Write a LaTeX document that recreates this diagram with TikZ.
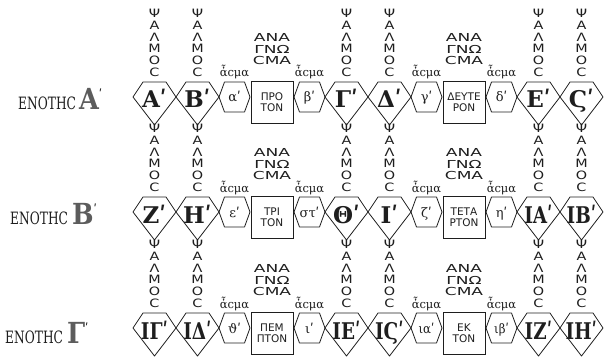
\documentclass[tikz,border=0pt]{standalone}
\usepackage{fontspec}
\usepackage{graphicx}
\setmainfont{DejaVu Serif}
\newfontfamily\gsans{DejaVu Sans}
\newfontfamily\gserif{DejaVu Serif}
\definecolor{ink}{HTML}{1E1E1E}
\definecolor{orn}{HTML}{5C5C5C}
\tikzset{
  shapeline/.style={draw=ink, line width=0.8pt, line join=round},
  psalmos/.style={inner sep=0pt, anchor=south, text=ink,
    font=\gsans\fontsize{11.5}{11}\selectfont},
  numlet/.style={inner sep=0pt, anchor=base, text=ink,
    font=\gserif\bfseries\fontsize{23}{23}\selectfont},
  hexlet/.style={inner sep=0pt, anchor=base, text=ink,
    font=\gserif\fontsize{13}{13}\selectfont},
  asma/.style={inner sep=0pt, anchor=base, text=ink,
    font=\gserif\fontsize{11.5}{11.5}\selectfont},
  anag/.style={inner sep=0pt, anchor=south, align=center, text=ink,
    font=\gsans\fontsize{11}{11.6}\selectfont},
  lecbox/.style={draw=ink, line width=0.8pt, minimum width=42pt, minimum height=42pt,
    inner sep=0pt, align=center, text=ink, font=\gsans\fontsize{10.5}{10.8}\selectfont},
  unitlabel/.style={inner sep=0pt, anchor=base west, text=ink},
}
\newcommand\PsCol{\scalebox{1.25}[1]{\begin{tabular}{@{}c@{}}Ψ\\Α\\Λ\\Μ\\Ο\\Ϲ\end{tabular}}}
\newcommand\DrawPent[4]{%
  \draw[shapeline] ({#1-11.5},#2) -- ({#1+11.5},#2) -- ({#1+21.5},{#2+15})
    -- (#1,{#2+43}) -- ({#1-21.5},{#2+15}) -- cycle;
  \node[numlet] (#4) at (#1,{#2+26}) {#3};
  \node[psalmos] (#4ps) at (#1,{#2-2}) {\PsCol};
}
\newcommand\DrawHex[4]{%
  \draw[shapeline] ({#1-10},#2) -- ({#1+10},#2) -- ({#1+15.5},{#2+15})
    -- ({#1+10},{#2+30}) -- ({#1-10},{#2+30}) -- ({#1-15.5},{#2+15}) -- cycle;
  \node[hexlet] (#4) at (#1,{#2+20}) {#3};
  \node[asma] (#4as) at (#1,{#2-5}) {ἆϲμα};
}
\newcommand\DrawLec[4]{%
  \node[lecbox] (#4) at (#1,{#2+20}) {#3};
  \node[anag] (#4an) at (#1,{#2-17}) {\scalebox{1.55}[1]{ΑΝΑ}\\\scalebox{1.55}[1]{ΓΝΩ}\\\scalebox{1.55}[1]{ϹΜΑ}};
}
\newcommand\TwoLet[1]{\scalebox{0.8}[1]{#1}}
\newcommand\OrnLet[1]{{\color{orn}\gserif\bfseries\fontsize{29}{29}\selectfont\scalebox{0.88}[1]{#1}}}
\newcommand\NumMark{{\fontsize{12}{12}\selectfont\raisebox{11pt}{ʹ}}}
\newcommand\UnitWord[1]{\scalebox{0.72}[1]{\gserif\fontsize{17}{17}\selectfont #1}}
\begin{document}
\begin{tikzpicture}[x=1pt,y=-1pt]
\useasboundingbox (0,0) rectangle (604,358);
% unit labels
\node[unitlabel] (u1) at (18,110) {\UnitWord{ΕΝΟΤΗϹ}\hspace{3pt}\OrnLet{Α}\NumMark};
\node[unitlabel] (u2) at (10,224) {\UnitWord{ΕΝΟΤΗϹ}\hspace{4pt}\OrnLet{Β}\NumMark};
\node[unitlabel] (u3) at (5,343) {\UnitWord{ΕΝΟΤΗϹ}\hspace{4pt}\OrnLet{Γ}\NumMark};
% row 1
\DrawPent{154.5}{82}{Αʹ}{pa}
\DrawPent{197.5}{82}{Βʹ}{pb}
\DrawHex{234.5}{82}{αʹ}{ha}
\DrawLec{272}{82}{ΠΡΟ\\ΤΟΝ}{la}
\DrawHex{309.5}{82}{βʹ}{hb}
\DrawPent{346.5}{82}{Γʹ}{pc}
\DrawPent{389.5}{82}{Δʹ}{pd}
\DrawHex{426.5}{82}{γʹ}{hc}
\DrawLec{464}{82}{ΔΕΥΤΕ\\ΡΟΝ}{lb}
\DrawHex{501.5}{82}{δʹ}{hd}
\DrawPent{538.5}{82}{Εʹ}{pe}
\DrawPent{581.5}{82}{Ϛʹ}{pf}
% row 2
\DrawPent{154.5}{197}{Ζʹ}{pg}
\DrawPent{197.5}{197}{Ηʹ}{ph}
\DrawHex{234.5}{197}{εʹ}{he}
\DrawLec{272}{197}{ΤΡΙ\\ΤΟΝ}{lc}
\DrawHex{309.5}{197}{στʹ}{hf}
\DrawPent{346.5}{197}{Θʹ}{pi}
\DrawPent{389.5}{197}{Ιʹ}{pj}
\DrawHex{426.5}{197}{ζʹ}{hg}
\DrawLec{464}{197}{ΤΕΤΑ\\ΡΤΟΝ}{ld}
\DrawHex{501.5}{197}{ηʹ}{hh}
\DrawPent{538.5}{197}{\TwoLet{ΙΑʹ}}{pk}
\DrawPent{581.5}{197}{\TwoLet{ΙΒʹ}}{pl}
% row 3
\DrawPent{154.5}{313}{\TwoLet{ΙΓʹ}}{pm}
\DrawPent{197.5}{313}{\TwoLet{ΙΔʹ}}{pn}
\DrawHex{234.5}{313}{ϑʹ}{hi}
\DrawLec{272}{313}{ΠΕΜ\\ΠΤΟΝ}{le}
\DrawHex{309.5}{313}{ιʹ}{hj}
\DrawPent{346.5}{313}{\TwoLet{ΙΕʹ}}{po}
\DrawPent{389.5}{313}{\TwoLet{ΙϚʹ}}{pp}
\DrawHex{426.5}{313}{\scalebox{0.9}[1]{ιαʹ}}{hk}
\DrawLec{464}{313}{ΕΚ\\ΤΟΝ}{lf}
\DrawHex{501.5}{313}{\scalebox{0.9}[1]{ιβʹ}}{hl}
\DrawPent{538.5}{313}{\TwoLet{ΙΖʹ}}{pq}
\DrawPent{581.5}{313}{\TwoLet{ΙΗʹ}}{pr}
\end{tikzpicture}
\end{document}
